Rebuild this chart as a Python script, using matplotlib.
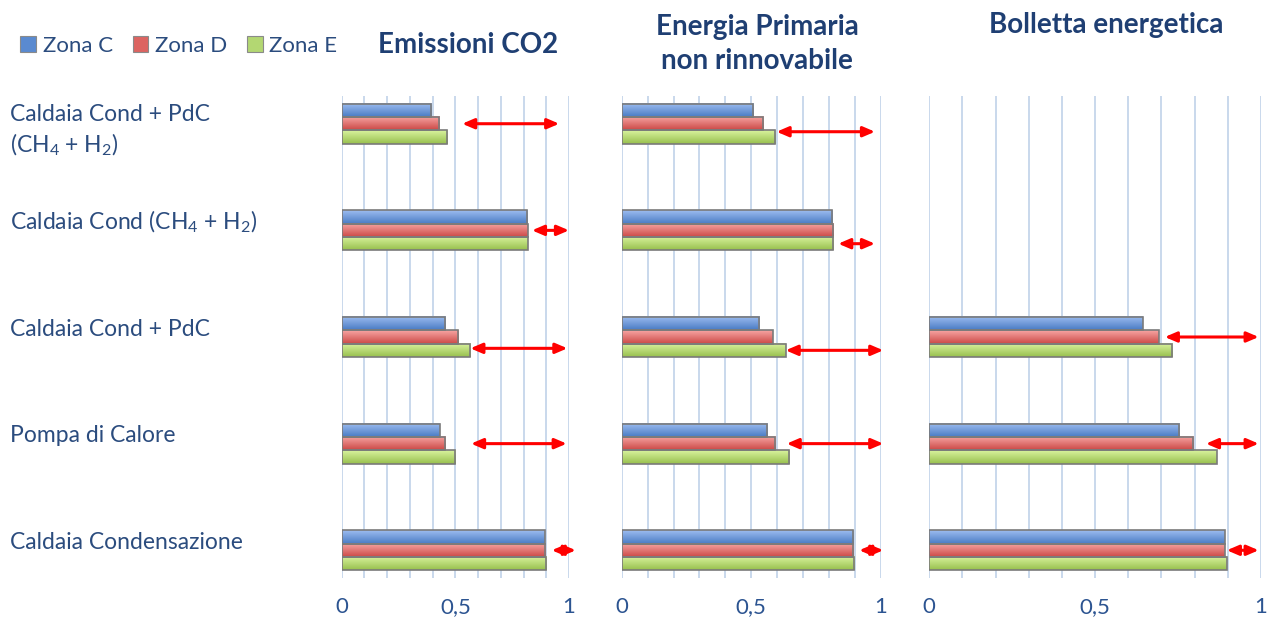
import numpy as np
import matplotlib.pyplot as plt
from matplotlib.colors import LinearSegmentedColormap
from matplotlib.patches import Patch
from matplotlib.transforms import blended_transform_factory, ScaledTranslation

plt.rcParams["font.family"] = ["Lato", "DejaVu Sans"]
plt.rcParams["mathtext.fontset"] = "custom"
plt.rcParams["mathtext.rm"] = "Lato"
plt.rcParams["mathtext.it"] = "Lato"

categories = [
    "Caldaia Cond + PdC\n(CH$_4$ + H$_2$)",
    "Caldaia Cond (CH$_4$ + H$_2$)",
    "Caldaia Cond + PdC",
    "Pompa di Calore",
    "Caldaia Condensazione",
]
zones = ["Zona C", "Zona D", "Zona E"]
titles = ["Emissioni CO2", "Energia Primaria\nnon rinnovabile", "Bolletta energetica"]
tick_values = [0, 0.5, 1]
tick_labels = ["0", "0,5", "1"]

nan = np.nan
co2_c = [0.393, 0.814, 0.456, 0.431, 0.893]
co2_d = [0.427, 0.818, 0.513, 0.456, 0.894]
co2_e = [0.465, 0.818, 0.566, 0.498, 0.899]
epnr_c = [0.508, 0.813, 0.530, 0.562, 0.892]
epnr_d = [0.546, 0.816, 0.583, 0.591, 0.893]
epnr_e = [0.591, 0.817, 0.633, 0.645, 0.897]
bill_c = [nan, nan, 0.645, 0.754, 0.892]
bill_d = [nan, nan, 0.692, 0.796, 0.892]
bill_e = [nan, nan, 0.733, 0.867, 0.897]

# red double arrows: gap from the bars to 1
co2_arrow_from = [0.530, 0.837, 0.566, 0.569, 0.924]
co2_arrow_to = [0.957, 1.000, 0.993, 0.990, 1.030]
co2_arrow_bar = [0, 0, 0.85, 0, 0]
epnr_arrow_from = [0.598, 0.836, 0.633, 0.637, 0.917]
epnr_arrow_to = [0.978, 0.978, 1.010, 1.010, 1.010]
epnr_arrow_bar = [0.6, 1, 1, 0, 0]
bill_arrow_from = [nan, nan, 0.710, 0.834, 0.897]
bill_arrow_to = [nan, nan, 0.993, 0.993, 0.993]
bill_arrow_bar = [0, 0, 0, 0, 0]

panels = [
    ([co2_c, co2_d, co2_e], co2_arrow_from, co2_arrow_to, co2_arrow_bar),
    ([epnr_c, epnr_d, epnr_e], epnr_arrow_from, epnr_arrow_to, epnr_arrow_bar),
    ([bill_c, bill_d, bill_e], bill_arrow_from, bill_arrow_to, bill_arrow_bar),
]

W, H = 1273, 624
NAVY = "#1f3f73"
TICK = "#2c5491"
TEXT = "#2b4c7e"
GRID = "#c9d8ec"
# light (top) -> dark (bottom) gradient per zone
GRADS = [("#9dbcf0", "#4a7cc4"), ("#f7a5a3", "#cc4a47"), ("#d9f39e", "#98c04e")]
LEG = ["#5a8ad0", "#dc6461", "#b3d772"]

fig = plt.figure(figsize=(W / 100, H / 100), dpi=100, facecolor="white")

ax_px = [(341.7, 569.0), (621.7, 880.7), (929.3, 1261.0)]
top_px, bot_px = 96, 578
bh = 0.125
axes = []
for (x0, x1), (series, a_from, a_to, a_bar) in zip(ax_px, panels):
    ax = fig.add_axes([x0 / W, (H - bot_px) / H, (x1 - x0) / W, (bot_px - top_px) / H])
    axes.append(ax)
    for s in ax.spines.values():
        s.set_visible(False)
    ax.set_xticks(tick_values)
    ax.set_xticklabels(tick_labels, fontsize=16, color=TICK)
    ax.set_xticks(np.arange(0, 1.01, 0.1), minor=True)
    ax.grid(axis="x", which="both", color=GRID, lw=1.4, zorder=0)
    ax.tick_params(axis="x", which="both", length=0, pad=14)
    ax.set_yticks([])

    for k, vals in enumerate(series):
        cmap = LinearSegmentedColormap.from_list(f"g{k}", GRADS[k])
        grad = np.linspace(0, 1, 32).reshape(-1, 1)
        for i, v in enumerate(vals):
            if np.isnan(v):
                continue
            yc = i + (k - 1) * bh
            ax.imshow(grad, cmap=cmap, aspect="auto", origin="upper",
                      extent=[0, v, yc + bh / 2, yc - bh / 2], zorder=2,
                      interpolation="bilinear")
            ax.barh(yc, v, height=bh, facecolor="none", edgecolor="#7a7a7a",
                    lw=1.2, zorder=3)

    for i in range(len(a_from)):
        if np.isnan(a_from[i]):
            continue
        ya = i + a_bar[i] * bh
        ax.annotate("", xy=(a_to[i], ya), xytext=(a_from[i], ya),
                    annotation_clip=False,
                    arrowprops=dict(arrowstyle="<|-|>,head_length=0.7,head_width=0.3",
                                    color="#ff0000", lw=2.2, shrinkA=0, shrinkB=0),
                    zorder=4)
    ax.set_xlim(0, 1)
    ax.set_ylim(4.26, -0.26)

# category labels at the far left
base = blended_transform_factory(fig.transFigure, axes[0].transData)
for i, lab in enumerate(categories):
    dy = -0.07 if "\n" in lab else 0.08
    tr = base + ScaledTranslation(0, dy, fig.dpi_scale_trans)
    fig.text(10 / W, i, lab, transform=tr, ha="left", va="center",
             fontsize=16.5, color=TEXT, linespacing=1.35)

# panel titles
title_xy = [(468, 45), (757, 44), (1106, 25)]
for (tx, ty), t in zip(title_xy, titles):
    fig.text(tx / W, 1 - ty / H, t, ha="center", va="center", fontsize=20,
             fontweight="bold", color=NAVY, linespacing=1.35)

handles = [Patch(facecolor=c, edgecolor="#8a8a8a", lw=0.8, label=z) for c, z in zip(LEG, zones)]
fig.legend(handles=handles, loc="center left", bbox_to_anchor=(0.009, 1 - 46 / H),
           ncol=3, frameon=False, fontsize=16, labelcolor=TEXT,
           handlelength=0.7, handleheight=0.7, handletextpad=0.3,
           columnspacing=0.9, borderaxespad=0)

fig.savefig("out.png", dpi=100, facecolor="white")
